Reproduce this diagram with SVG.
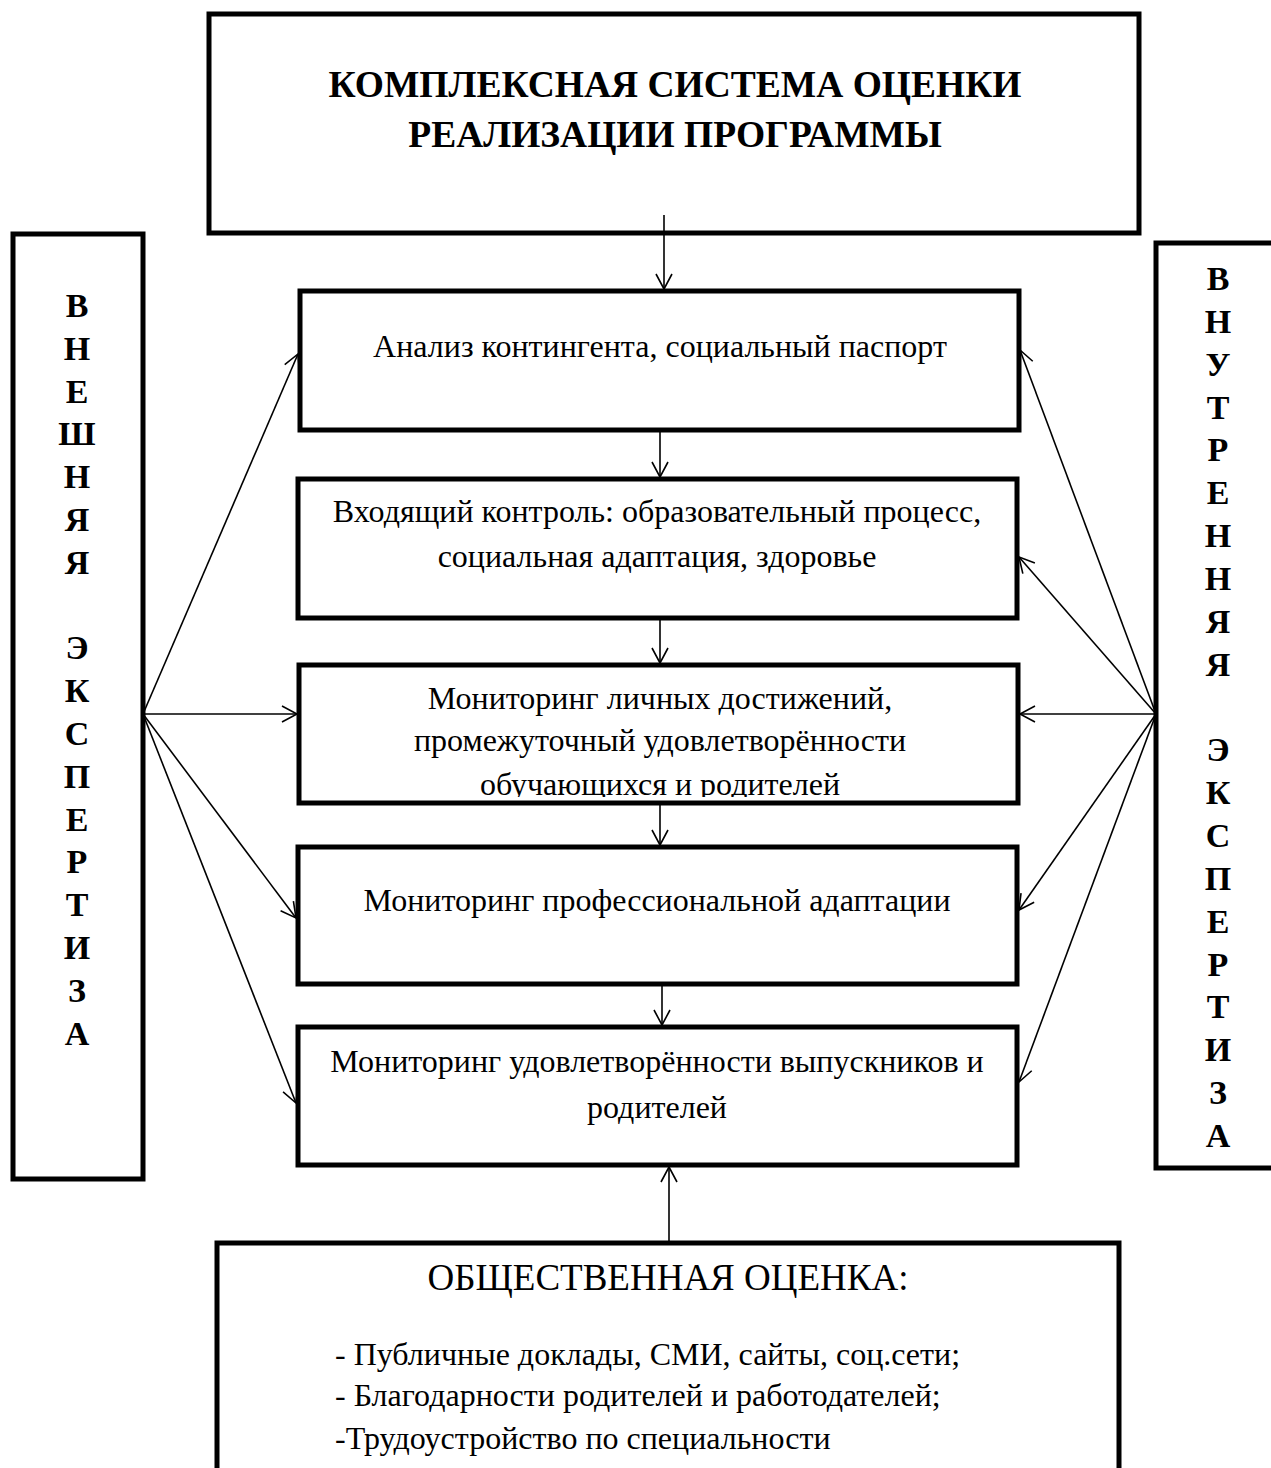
<svg xmlns="http://www.w3.org/2000/svg" width="1271" height="1468" viewBox="0 0 1271 1468">
<style>
.box{fill:#fff;stroke:#000;stroke-width:5}
.t{font-family:"Liberation Serif","Times New Roman",serif;font-size:32px;fill:#000;text-anchor:middle}
.tb{font-family:"Liberation Serif","Times New Roman",serif;font-size:37.5px;font-weight:bold;fill:#000;text-anchor:middle}
.v{font-family:"Liberation Serif","Times New Roman",serif;font-size:34px;font-weight:bold;fill:#000;text-anchor:middle}
.l{font-family:"Liberation Serif","Times New Roman",serif;font-size:32px;fill:#000}
.c{fill:none;stroke:#000;stroke-width:1.6}
</style>
<defs>
<marker id="arr" markerUnits="userSpaceOnUse" markerWidth="20" markerHeight="20" viewBox="-16 -10 20 20" refX="0" refY="0" orient="auto">
<path d="M-15,-8 L0,0 L-15,8" fill="none" stroke="#000" stroke-width="1.6"/>
</marker>
<clipPath id="clip3"><rect x="299" y="665" width="720" height="132"/></clipPath>
</defs>
<rect width="1271" height="1468" fill="#fff"/>

<g id="top">
<rect class="box" x="209" y="14" width="930" height="219"/>
<text class="tb" x="675" y="97">КОМПЛЕКСНАЯ СИСТЕМА ОЦЕНКИ</text>
<text class="tb" x="675" y="147">РЕАЛИЗАЦИИ ПРОГРАММЫ</text>
</g>

<g id="left">
<rect class="box" x="13" y="234" width="130" height="945"/>
<text class="v" x="77" y="317"><tspan x="77">В</tspan><tspan x="77" dy="42.8">Н</tspan><tspan x="77" dy="42.8">Е</tspan><tspan x="77" dy="42.8">Ш</tspan><tspan x="77" dy="42.8">Н</tspan><tspan x="77" dy="42.8">Я</tspan><tspan x="77" dy="42.8">Я</tspan><tspan x="77" dy="85.6">Э</tspan><tspan x="77" dy="42.8">К</tspan><tspan x="77" dy="42.8">С</tspan><tspan x="77" dy="42.8">П</tspan><tspan x="77" dy="42.8">Е</tspan><tspan x="77" dy="42.8">Р</tspan><tspan x="77" dy="42.8">Т</tspan><tspan x="77" dy="42.8">И</tspan><tspan x="77" dy="42.8">З</tspan><tspan x="77" dy="42.8">А</tspan></text>
</g>

<g id="right">
<rect class="box" x="1156" y="243" width="130" height="925"/>
<text class="v" x="1218" y="290"><tspan x="1218">В</tspan><tspan x="1218" dy="42.85">Н</tspan><tspan x="1218" dy="42.85">У</tspan><tspan x="1218" dy="42.85">Т</tspan><tspan x="1218" dy="42.85">Р</tspan><tspan x="1218" dy="42.85">Е</tspan><tspan x="1218" dy="42.85">Н</tspan><tspan x="1218" dy="42.85">Н</tspan><tspan x="1218" dy="42.85">Я</tspan><tspan x="1218" dy="42.85">Я</tspan><tspan x="1218" dy="85.7">Э</tspan><tspan x="1218" dy="42.85">К</tspan><tspan x="1218" dy="42.85">С</tspan><tspan x="1218" dy="42.85">П</tspan><tspan x="1218" dy="42.85">Е</tspan><tspan x="1218" dy="42.85">Р</tspan><tspan x="1218" dy="42.85">Т</tspan><tspan x="1218" dy="42.85">И</tspan><tspan x="1218" dy="42.85">З</tspan><tspan x="1218" dy="42.85">А</tspan></text>
</g>

<g id="box1">
<rect class="box" x="300" y="291" width="719" height="139"/>
<text class="t" x="660" y="357">Анализ контингента, социальный паспорт</text>
</g>

<g id="box2">
<rect class="box" x="298" y="479" width="719" height="139"/>
<text class="t" x="657" y="522">Входящий контроль: образовательный процесс,</text>
<text class="t" x="657" y="567">социальная адаптация, здоровье</text>
</g>

<g id="box3">
<rect class="box" x="299" y="665" width="719" height="138"/>
<text class="t" x="660" y="709">Мониторинг личных достижений,</text>
<text class="t" x="660" y="751">промежуточный удовлетворённости</text>
<text class="t" x="660" y="795" clip-path="url(#clip3)">обучающихся и родителей</text>
</g>

<g id="box4">
<rect class="box" x="298" y="847" width="719" height="137"/>
<text class="t" x="657" y="911">Мониторинг профессиональной адаптации</text>
</g>

<g id="box5">
<rect class="box" x="298" y="1027" width="719" height="138"/>
<text class="t" x="657" y="1072">Мониторинг удовлетворённости выпускников и</text>
<text class="t" x="657" y="1118">родителей</text>
</g>

<g id="bottom">
<rect class="box" x="217" y="1243" width="902" height="240"/>
<text class="t" x="668" y="1290" style="font-size:37px">ОБЩЕСТВЕННАЯ ОЦЕНКА:</text>
<text class="l" x="335" y="1365">- Публичные доклады, СМИ, сайты, соц.сети;</text>
<text class="l" x="335" y="1406">- Благодарности родителей и работодателей;</text>
<text class="l" x="335" y="1449">-Трудоустройство по специальности</text>
</g>

<g id="connectors">
<line class="c" x1="664" y1="215" x2="664" y2="289" marker-end="url(#arr)"/>
<line class="c" x1="660" y1="432" x2="660" y2="477" marker-end="url(#arr)"/>
<line class="c" x1="660" y1="620" x2="660" y2="663" marker-end="url(#arr)"/>
<line class="c" x1="660" y1="805" x2="660" y2="845" marker-end="url(#arr)"/>
<line class="c" x1="662" y1="986" x2="662" y2="1025" marker-end="url(#arr)"/>
<line class="c" x1="669" y1="1241" x2="669" y2="1167" marker-end="url(#arr)"/>

<line class="c" x1="143" y1="714" x2="298" y2="354" marker-end="url(#arr)"/>
<line class="c" x1="143" y1="714" x2="297" y2="714" marker-end="url(#arr)"/>
<line class="c" x1="143" y1="714" x2="296" y2="918" marker-end="url(#arr)"/>
<line class="c" x1="143" y1="714" x2="296" y2="1103" marker-end="url(#arr)"/>

<line class="c" x1="1156" y1="714" x2="1020" y2="350" marker-end="url(#arr)"/>
<line class="c" x1="1156" y1="714" x2="1019" y2="557" marker-end="url(#arr)"/>
<line class="c" x1="1156" y1="714" x2="1020" y2="714" marker-end="url(#arr)"/>
<line class="c" x1="1156" y1="714" x2="1019" y2="910" marker-end="url(#arr)"/>
<line class="c" x1="1156" y1="714" x2="1019" y2="1082" marker-end="url(#arr)"/>
</g>
</svg>
